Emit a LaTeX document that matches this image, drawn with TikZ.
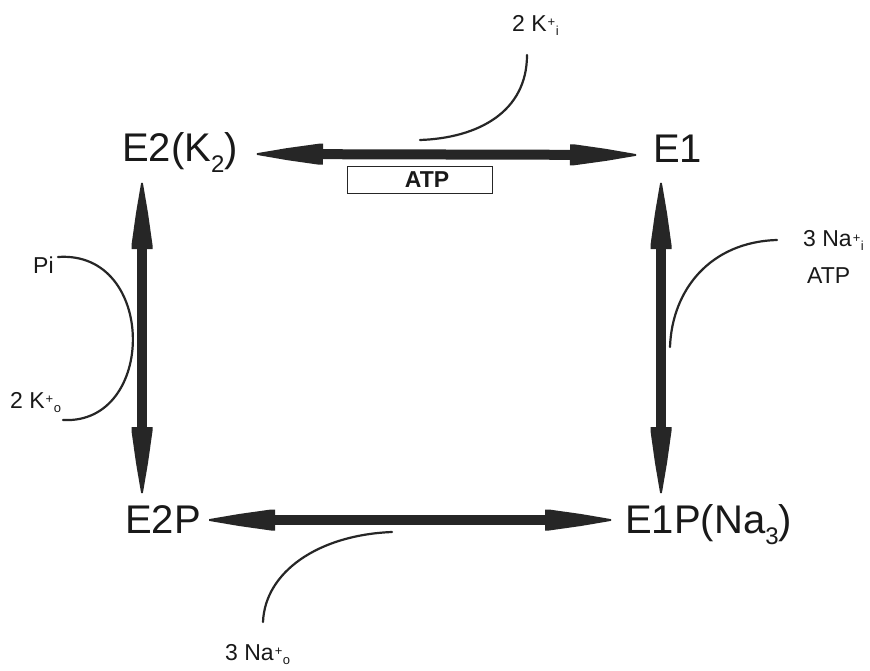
\documentclass[tikz,border=0pt]{standalone}
\usepackage{fontspec}
\setmainfont{Liberation Sans}
\usetikzlibrary{arrows.meta}
\pgfdeclarearrow{
  name=Spear,
  setup code={
    \pgfarrowssettipend{0pt}
    \pgfarrowssetlineend{-50pt}
    \pgfarrowssetbackend{-66pt}
  },
  drawing code={
    \pgfpathmoveto{\pgfqpoint{0pt}{0.9pt}}
    \pgfpathlineto{\pgfqpoint{-30pt}{6pt}}
    \pgfpathlineto{\pgfqpoint{-62pt}{10.5pt}}
    \pgfpathlineto{\pgfqpoint{-66pt}{10.5pt}}
    \pgfpathlineto{\pgfqpoint{-66pt}{-10.5pt}}
    \pgfpathlineto{\pgfqpoint{-62pt}{-10.5pt}}
    \pgfpathlineto{\pgfqpoint{-30pt}{-6pt}}
    \pgfpathlineto{\pgfqpoint{0pt}{-0.9pt}}
    \pgfpathclose
    \pgfusepathqfill
  }
}
\newcommand\subsc[1]{\raisebox{-11pt}{\fontsize{24}{24}\selectfont #1}}
\newcommand\ionlab[3]{#1\kern1pt\raisebox{5pt}{\fontsize{13}{13}\selectfont #2}\kern0.5pt\raisebox{-4pt}{\fontsize{13}{13}\selectfont #3}}
\tikzset{
  bigarrow/.style={line width=10pt, draw=black!85, fill=black!85, Spear-Spear},
  statelab/.style={inner sep=0pt, font=\fontsize{40}{48}\selectfont, text=black!90},
  ionlabel/.style={inner sep=0pt, font=\fontsize{23}{28}\selectfont, text=black!90},
  curveline/.style={line width=2.2pt, draw=black!85, line cap=round},
  atpbox/.style={draw=black!85, line width=1.8pt, minimum width=145pt, minimum height=27pt,
    inner sep=0pt, font=\bfseries\fontsize{23}{26}\selectfont, text=black!90},
}
\begin{document}
\begin{tikzpicture}[x=1pt,y=-1pt]
\useasboundingbox[fill=white] (0,0) rectangle (870,671);
% states
\node[statelab, anchor=base west] (e2k) at (122,162) {E2(K\subsc{2})};
\node[statelab, anchor=base west] (e1)  at (653,163) {E1};
\node[statelab, anchor=base west] (e2p) at (125,533) {E2P};
\node[statelab, anchor=base west] (e1p) at (625,533) {E1P(Na\subsc{3})};
% main arrows
\draw[bigarrow, shorten <=19pt, shorten >=17pt] ([yshift=8pt]e2k.base east) -- ([yshift=8pt]e1.base west);
\draw[bigarrow] ([xshift=20pt,yshift=-21pt]e2k.base west) -- ([xshift=17pt,yshift=40pt]e2p.base west);
\draw[bigarrow] ([xshift=8pt,yshift=-20pt]e1.base west) -- ([xshift=36pt,yshift=40pt]e1p.base west);
\draw[bigarrow] ([xshift=8pt,yshift=13pt]e2p.base east) -- ([xshift=-14pt,yshift=13pt]e1p.base west);
% ATP box
\node[atpbox] (atp) at (420,180) {\hspace*{14pt}ATP};
% ion labels
\node[ionlabel, anchor=base west] (kin)  at (512,32)  {\ionlab{2 K}{+}{i}};
\node[ionlabel, anchor=base west] (pi)   at (33,273)  {Pi};
\node[ionlabel, anchor=base west] (kout) at (10,408)  {\ionlab{2 K}{+}{o}};
\node[ionlabel, anchor=base west] (nain) at (803,247) {\ionlab{3 Na}{+}{i}};
\node[ionlabel, anchor=base west] (atpr) at (807,283) {ATP};
\node[ionlabel, anchor=base west] (naout) at (225,660) {\ionlab{3 Na}{+}{o}};
% curve end points
\coordinate (c1a) at (527,55);  \coordinate (c1b) at (420,140);
\coordinate (c2a) at (58,257);  \coordinate (c2b) at (63,420);
\coordinate (c3a) at (777,240); \coordinate (c3b) at (670,347);
\coordinate (c4a) at (392,532); \coordinate (c4b) at (263,622);
\draw[curveline] (c1a) .. controls (527,112) and (478,138) .. (c1b);
\draw[curveline] (c2a) .. controls (157,250) and (157,425) .. (c2b);
\draw[curveline] (c3a) .. controls (710,242) and (672,290) .. (c3b);
\draw[curveline] (c4a) .. controls (318,535) and (265,572) .. (c4b);
\end{tikzpicture}
\end{document}
